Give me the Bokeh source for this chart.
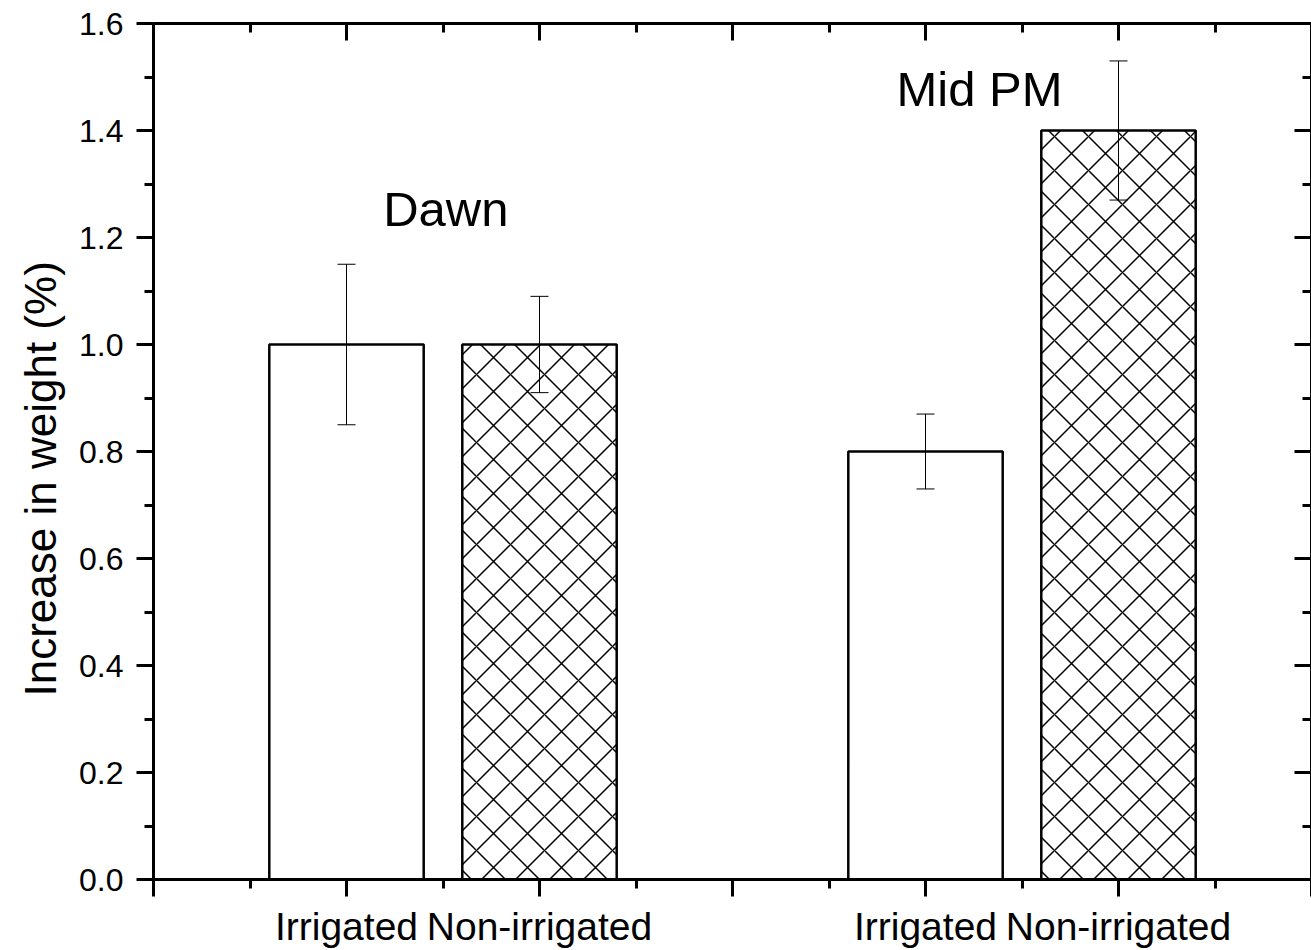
from bokeh.plotting import figure
from bokeh.models import (LinearAxis, FixedTicker, Range1d, Whisker, TeeHead,
                          ColumnDataSource, Label, CDSView, IndexFilter, Title)
from bokeh.embed import file_html
from bokeh.resources import INLINE

# ---- data ----
treatments = ["Irrigated", "Non-irrigated", "Irrigated", "Non-irrigated"]
periods = ["Dawn", "Dawn", "Mid PM", "Mid PM"]
means = [1.00, 1.00, 0.80, 1.40]
errors = [0.15, 0.09, 0.07, 0.13]
period_names = ["Dawn", "Mid PM"]
y_tick_values = [0.0, 0.2, 0.4, 0.6, 0.8, 1.0, 1.2, 1.4, 1.6]
y_title = "Increase in weight (%)"

# ---- layout helpers ----
slot = [1, 2, 4, 5]              # x slot for each bar
x_major = [0, 1, 2, 3, 4, 5, 6]
x_minor = [0.5, 1.5, 2.5, 3.5, 4.5, 5.5]
y_minor = [i / 10 for i in range(0, 17)]

FONT = "Liberation Sans"

src = ColumnDataSource(dict(
    x=slot, top=means, treat=treatments, period=periods,
    upper=[m + e for m, e in zip(means, errors)],
    lower=[m - e for m, e in zip(means, errors)],
))

p = figure(width=1311, height=950, x_range=Range1d(0, 6), y_range=Range1d(0, 1.6),
           output_backend="svg", toolbar_location=None,
           min_border_left=153, min_border_right=0, min_border_top=23,
           min_border_bottom=60)
p.outline_line_color = None
p.xgrid.visible = False
p.ygrid.visible = False
p.background_fill_color = "white"
p.border_fill_color = "white"

irr = [i for i, t in enumerate(treatments) if t == "Irrigated"]
non = [i for i, t in enumerate(treatments) if t != "Irrigated"]
p.vbar(x="x", top="top", width=0.8, source=src, view=CDSView(filter=IndexFilter(irr)),
       fill_color="white", line_color="black", line_width=2.5)
p.vbar(x="x", top="top", width=0.8, source=src, view=CDSView(filter=IndexFilter(non)),
       fill_color="white", line_color="black", line_width=2.5,
       hatch_pattern="diagonal_cross", hatch_color="black", hatch_scale=34, hatch_weight=1.5)

wh = Whisker(base="x", upper="upper", lower="lower", source=src, line_width=1,
             line_color="black", level="annotation",
             upper_head=TeeHead(size=18, line_width=1, line_color="black"),
             lower_head=TeeHead(size=18, line_width=1, line_color="black"))
p.add_layout(wh)

label_pos = {"Dawn": (1.19, 1.253), "Mid PM": (3.85, 1.477)}
for name in period_names:
    lx, ly = label_pos[name]
    p.add_layout(Label(x=lx, y=ly, text=name, text_font=FONT, text_font_size="49px",
                       text_color="black", text_align="left", text_baseline="alphabetic"))

# y-axis title as a side title, starting a fixed distance above the frame bottom
ttl = Title(text=y_title, align="left", offset=183, standoff=24,
            text_font=FONT, text_font_size="44px", text_font_style="normal",
            text_color="black")
p.add_layout(ttl, "left")

# axes
xt = FixedTicker(ticks=x_major, minor_ticks=x_minor)
yt = FixedTicker(ticks=y_tick_values, minor_ticks=y_minor)
overrides = {v: "" for v in x_major}
for s, t in zip(slot, treatments):
    overrides[s] = t

def style(ax, inward, show_labels, ticks):
    ax.axis_line_width = 3
    ax.axis_line_color = "black"
    ax.major_tick_line_width = 3
    ax.minor_tick_line_width = 3
    ax.major_tick_line_color = "black"
    ax.minor_tick_line_color = "black"
    if inward:
        ax.major_tick_in, ax.major_tick_out = 17, 0
        ax.minor_tick_in, ax.minor_tick_out = 9, 0
    else:
        ax.major_tick_in, ax.major_tick_out = 0, 17
        ax.minor_tick_in, ax.minor_tick_out = 0, 9
    if not show_labels:
        ax.major_label_overrides = {v: "" for v in ticks}
        ax.major_label_text_font_size = "8px"
        ax.major_label_standoff = 0

xa = p.xaxis[0]
xa.ticker = xt
xa.major_label_overrides = overrides
xa.major_label_text_font = FONT
xa.major_label_text_font_size = "39px"
xa.major_label_text_color = "black"
xa.major_label_standoff = 8
style(xa, False, True, x_major)

ya = p.yaxis[0]
ya.ticker = yt
ya.major_label_overrides = {v: f"{v:.1f}" for v in y_tick_values}
ya.major_label_text_font = FONT
ya.major_label_text_font_size = "32px"
ya.major_label_text_color = "black"
ya.major_label_standoff = 13
style(ya, False, True, y_tick_values)

top = LinearAxis(ticker=FixedTicker(ticks=x_major, minor_ticks=x_minor))
style(top, True, False, x_major)
p.add_layout(top, "above")
right = LinearAxis(ticker=FixedTicker(ticks=y_tick_values, minor_ticks=y_minor))
style(right, True, False, y_tick_values)
p.add_layout(right, "right")

open("out.html", "w").write(file_html(p, INLINE))
